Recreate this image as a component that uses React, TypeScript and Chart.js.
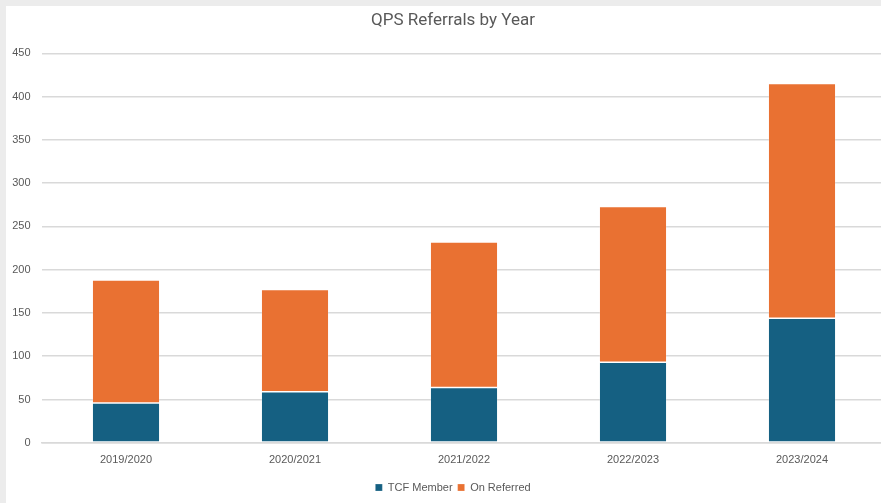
import React, { useEffect, useRef } from "react";
import { Chart, registerables } from "chart.js";

Chart.register(...registerables);

const categories = ["2019/2020", "2020/2021", "2021/2022", "2022/2023", "2023/2024"];
const tcfMember = [46, 59, 64, 93, 144];
const onReferred = [142, 118, 168, 180, 271];
const yTicks = [0, 50, 100, 150, 200, 250, 300, 350, 400, 450];

const BLUE = "#156082";
const ORANGE = "#E97132";
const TEXT = "#595959";
const GRID = "#d9d9d9";

export default function App() {
  const ref = useRef<HTMLCanvasElement | null>(null);

  useEffect(() => {
    document.body.style.background = "#ececec";
    const ctx = ref.current;
    if (!ctx) return;
    const chart = new Chart(ctx, {
      type: "bar",
      data: {
        labels: categories,
        datasets: [
          {
            label: "TCF Member",
            data: tcfMember,
            backgroundColor: BLUE,
            borderColor: "rgba(255,255,255,0.3)",
            borderWidth: 0.75,
            borderSkipped: false,
          },
          {
            label: "On Referred",
            data: onReferred,
            backgroundColor: ORANGE,
            borderColor: "rgba(255,255,255,0.3)",
            borderWidth: 0.75,
            borderSkipped: false,
          },
        ],
      },
      options: {
        animation: false,
        responsive: false,
        maintainAspectRatio: false,
        layout: { padding: { left: 0, right: 0, top: 0, bottom: 0 } },
        datasets: {
          bar: { categoryPercentage: 1, barPercentage: 0.4 },
        },
        plugins: {
          title: {
            display: true,
            text: "QPS Referrals by Year",
            color: TEXT,
            font: { family: "Roboto", size: 17, weight: "normal" },
            padding: { top: 5, bottom: 21.9 },
          },
          legend: {
            position: "bottom",
            labels: {
              color: TEXT,
              boxWidth: 7,
              boxHeight: 7,
              padding: 5,
              font: { family: "Liberation Sans", size: 11 },
            },
          },
          tooltip: { enabled: false },
        },
        scales: {
          x: {
            stacked: true,
            grid: { display: false, drawTicks: false },
            border: { display: true, color: GRID, width: 1.5 },
            ticks: {
              color: TEXT,
              padding: 10.5,
              font: { family: "Liberation Sans", size: 11 },
            },
          },
          y: {
            stacked: true,
            min: 0,
            max: 450,
            afterFit: (scale: any) => {
              scale.width = 35.5;
            },
            afterBuildTicks: (scale: any) => {
              scale.ticks = yTicks.map((v) => ({ value: v }));
            },
            grid: { color: GRID, lineWidth: 1.5, drawTicks: false },
            border: { display: false },
            ticks: {
              color: TEXT,
              padding: 11,
              font: { family: "Liberation Sans", size: 11 },
            },
          },
          y2: {
            position: "right",
            display: true,
            min: 0,
            max: 450,
            grid: { display: false, drawTicks: false },
            border: { display: false },
            ticks: { display: false },
            afterFit: (scale: any) => {
              scale.width = 13.5;
            },
          },
        },
      },
    });
    return () => {
      chart.destroy();
    };
  }, []);

  return (
    <div
      style={{
        position: "fixed",
        left: 6,
        top: 6,
        width: 894,
        height: 497,
        background: "#ffffff",
      }}
    >
      <canvas ref={ref} width={894} height={497} style={{ display: "block" }} />
    </div>
  );
}
